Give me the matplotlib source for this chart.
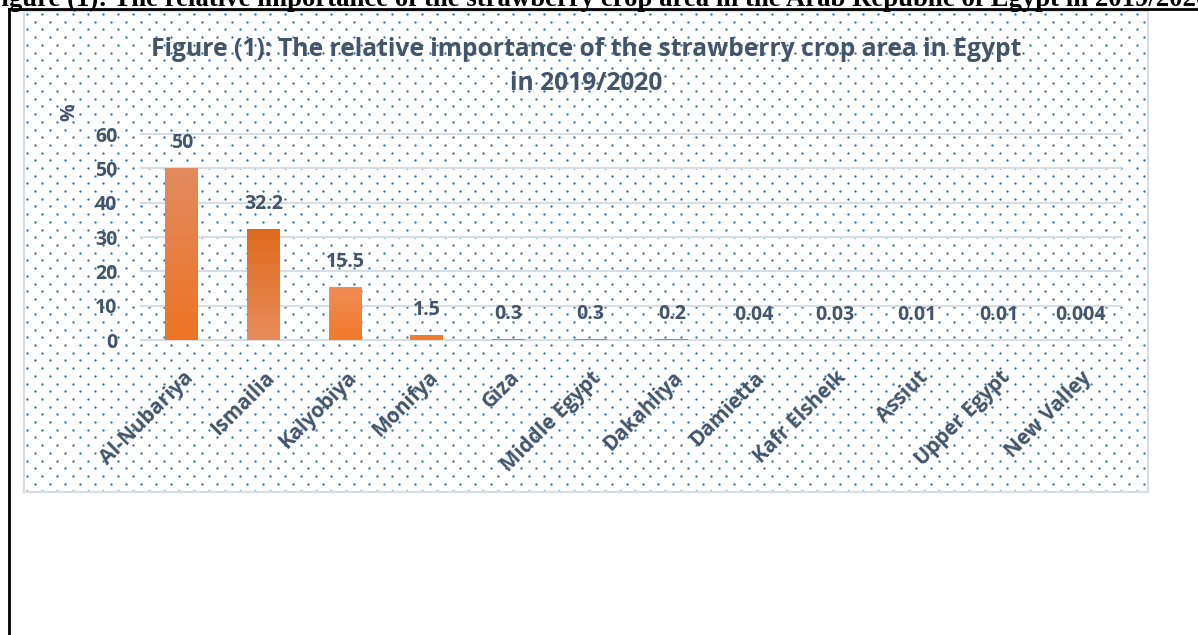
import matplotlib
matplotlib.use('Agg')
import matplotlib.pyplot as plt
import numpy as np
import matplotlib.transforms as mtransforms
from matplotlib.colors import LinearSegmentedColormap
from matplotlib.lines import Line2D

# ---------------- data ----------------
categories = ['Al-Nubariya', 'Ismailia', 'Kalyobiya', 'Monifya', 'Giza', 'Middle Egypt',
              'Dakahliya', 'Damietta', 'Kafr Elsheik', 'Assiut', 'Upper Egypt', 'New Valley']
values = [50, 32.2, 15.5, 1.5, 0.3, 0.3, 0.2, 0.04, 0.03, 0.01, 0.01, 0.004]
value_labels = ['50', '32.2', '15.5', '1.5', '0.3', '0.3', '0.2', '0.04', '0.03', '0.01', '0.01', '0.004']
y_ticks = [0, 10, 20, 30, 40, 50, 60]
title_line1 = 'Figure (1): The relative importance of the strawberry crop area in Egypt'
title_line2 = 'in 2019/2020'
header = ('Figure (1): The relative importance of the strawberry crop area in the Arab '
          'Republic of Egypt in 2019/2020')

# ---------------- styles ----------------
TXT = '#44546A'
FONT = 'Open Sans'
bar_tops = ['#E38A5E', '#DE6A1E', '#F08D55', '#F07C2E'] + ['#EE7A2C'] * 8
bar_bottoms = ['#EE7424', '#E98C5A', '#F07A2B', '#F07C2E'] + ['#EE7A2C'] * 8

W, H = 1198, 635
fig = plt.figure(figsize=(W / 100, H / 100), dpi=100)
fig.patch.set_facecolor('white')


def fx(px):
    return px / W


def fy(py):
    return 1 - py / H


# outer document frame
fig.add_artist(Line2D([fx(8.5), 1.0], [fy(9), fy(9)], color='black', lw=2.0,
                      transform=fig.transFigure))
fig.add_artist(Line2D([fx(8.5), fx(8.5)], [fy(9), 0], color='black', lw=2.0,
                      transform=fig.transFigure))
# cropped document caption
fig.text(fx(-15), fy(6.5), header, family='Liberation Serif', weight='bold',
         fontsize=19.3, color='black', ha='left', va='baseline')

# chart area with dotted fill
bx0, by0, bx1, by1 = 24, 11, 1148, 492
bg = fig.add_axes([fx(bx0), fy(by1), fx(bx1 - bx0), (by1 - by0) / H])
bg.set_xlim(0, bx1 - bx0)
bg.set_ylim(by1 - by0, 0)
dx_, dy_ = 15.2, 7.7
pts_x, pts_y = [], []
for i, yy in enumerate(np.arange(3, by1 - by0, dy_)):
    xs = np.arange(3 + (i % 2) * dx_ / 2, bx1 - bx0, dx_)
    pts_x.extend(xs)
    pts_y.extend([yy] * len(xs))
bg.scatter(pts_x, pts_y, s=2.8, color='#2F70A0', linewidths=0, zorder=1)
bg.set_xticks([])
bg.set_yticks([])
for sp in bg.spines.values():
    sp.set_color('#D6DCE4')
    sp.set_linewidth(1.5)

# plot axes
ax = fig.add_axes([fx(141), fy(340), fx(1121 - 141), (340 - 134) / H])
ax.set_facecolor('none')
x = np.arange(len(categories))
bars = ax.bar(x, values, width=0.4, color=bar_bottoms, zorder=3)

# vertical gradient inside bars
for b, ct, cb in zip(bars, bar_tops, bar_bottoms):
    cmap = LinearSegmentedColormap.from_list('g', [cb, ct])
    x0, y0 = b.get_x(), b.get_y()
    grad = np.linspace(0, 1, 64).reshape(-1, 1)
    im = ax.imshow(grad, cmap=cmap, origin='lower', aspect='auto',
                   extent=[x0, x0 + b.get_width(), y0, y0 + b.get_height()], zorder=4)
    im.set_clip_path(b)
ax.set_xlim(-0.5, len(categories) - 0.5)
ax.set_ylim(0, 60)

ax.set_yticks(y_ticks)
ax.set_yticklabels([str(v) for v in y_ticks], family=FONT, weight='bold', fontsize=14, color=TXT)
ax.yaxis.grid(True, color='#D9DDE3', lw=1.6, zorder=0)
for gl in ax.yaxis.get_gridlines():
    gl.set_clip_on(False)
ax.set_axisbelow(True)
ax.tick_params(axis='y', length=0, pad=17)
ax.tick_params(axis='x', length=0, pad=25)
for sp in ax.spines.values():
    sp.set_visible(False)

ax.set_xticks(x)
ax.set_xticklabels(categories, rotation=45, ha='right', va='center', rotation_mode='anchor',
                   family=FONT, weight='bold', fontsize=14.8, color=TXT)
offset = mtransforms.ScaledTranslation(8 / 100, 0, fig.dpi_scale_trans)
for lab in ax.get_xticklabels():
    lab.set_transform(lab.get_transform() + offset)

for xi, v, lab in zip(x, values, value_labels):
    ax.annotate(lab, (xi, v), xytext=(0, 18), textcoords='offset points',
                ha='center', va='center', family=FONT, weight='bold',
                fontsize=14, color=TXT, zorder=5)

# axis title "%"
fig.text(fx(69), fy(112), '%', rotation=90, family=FONT, weight='bold', fontsize=14,
         color=TXT, ha='center', va='center')

# chart title
fig.text(fx(586), fy(50), title_line1, family=FONT, weight='bold', fontsize=17.7,
         color=TXT, ha='center', va='center')
fig.text(fx(586), fy(84), title_line2, family=FONT, weight='bold', fontsize=17.7,
         color=TXT, ha='center', va='center')

fig.savefig('out.png', dpi=100, facecolor='white')
